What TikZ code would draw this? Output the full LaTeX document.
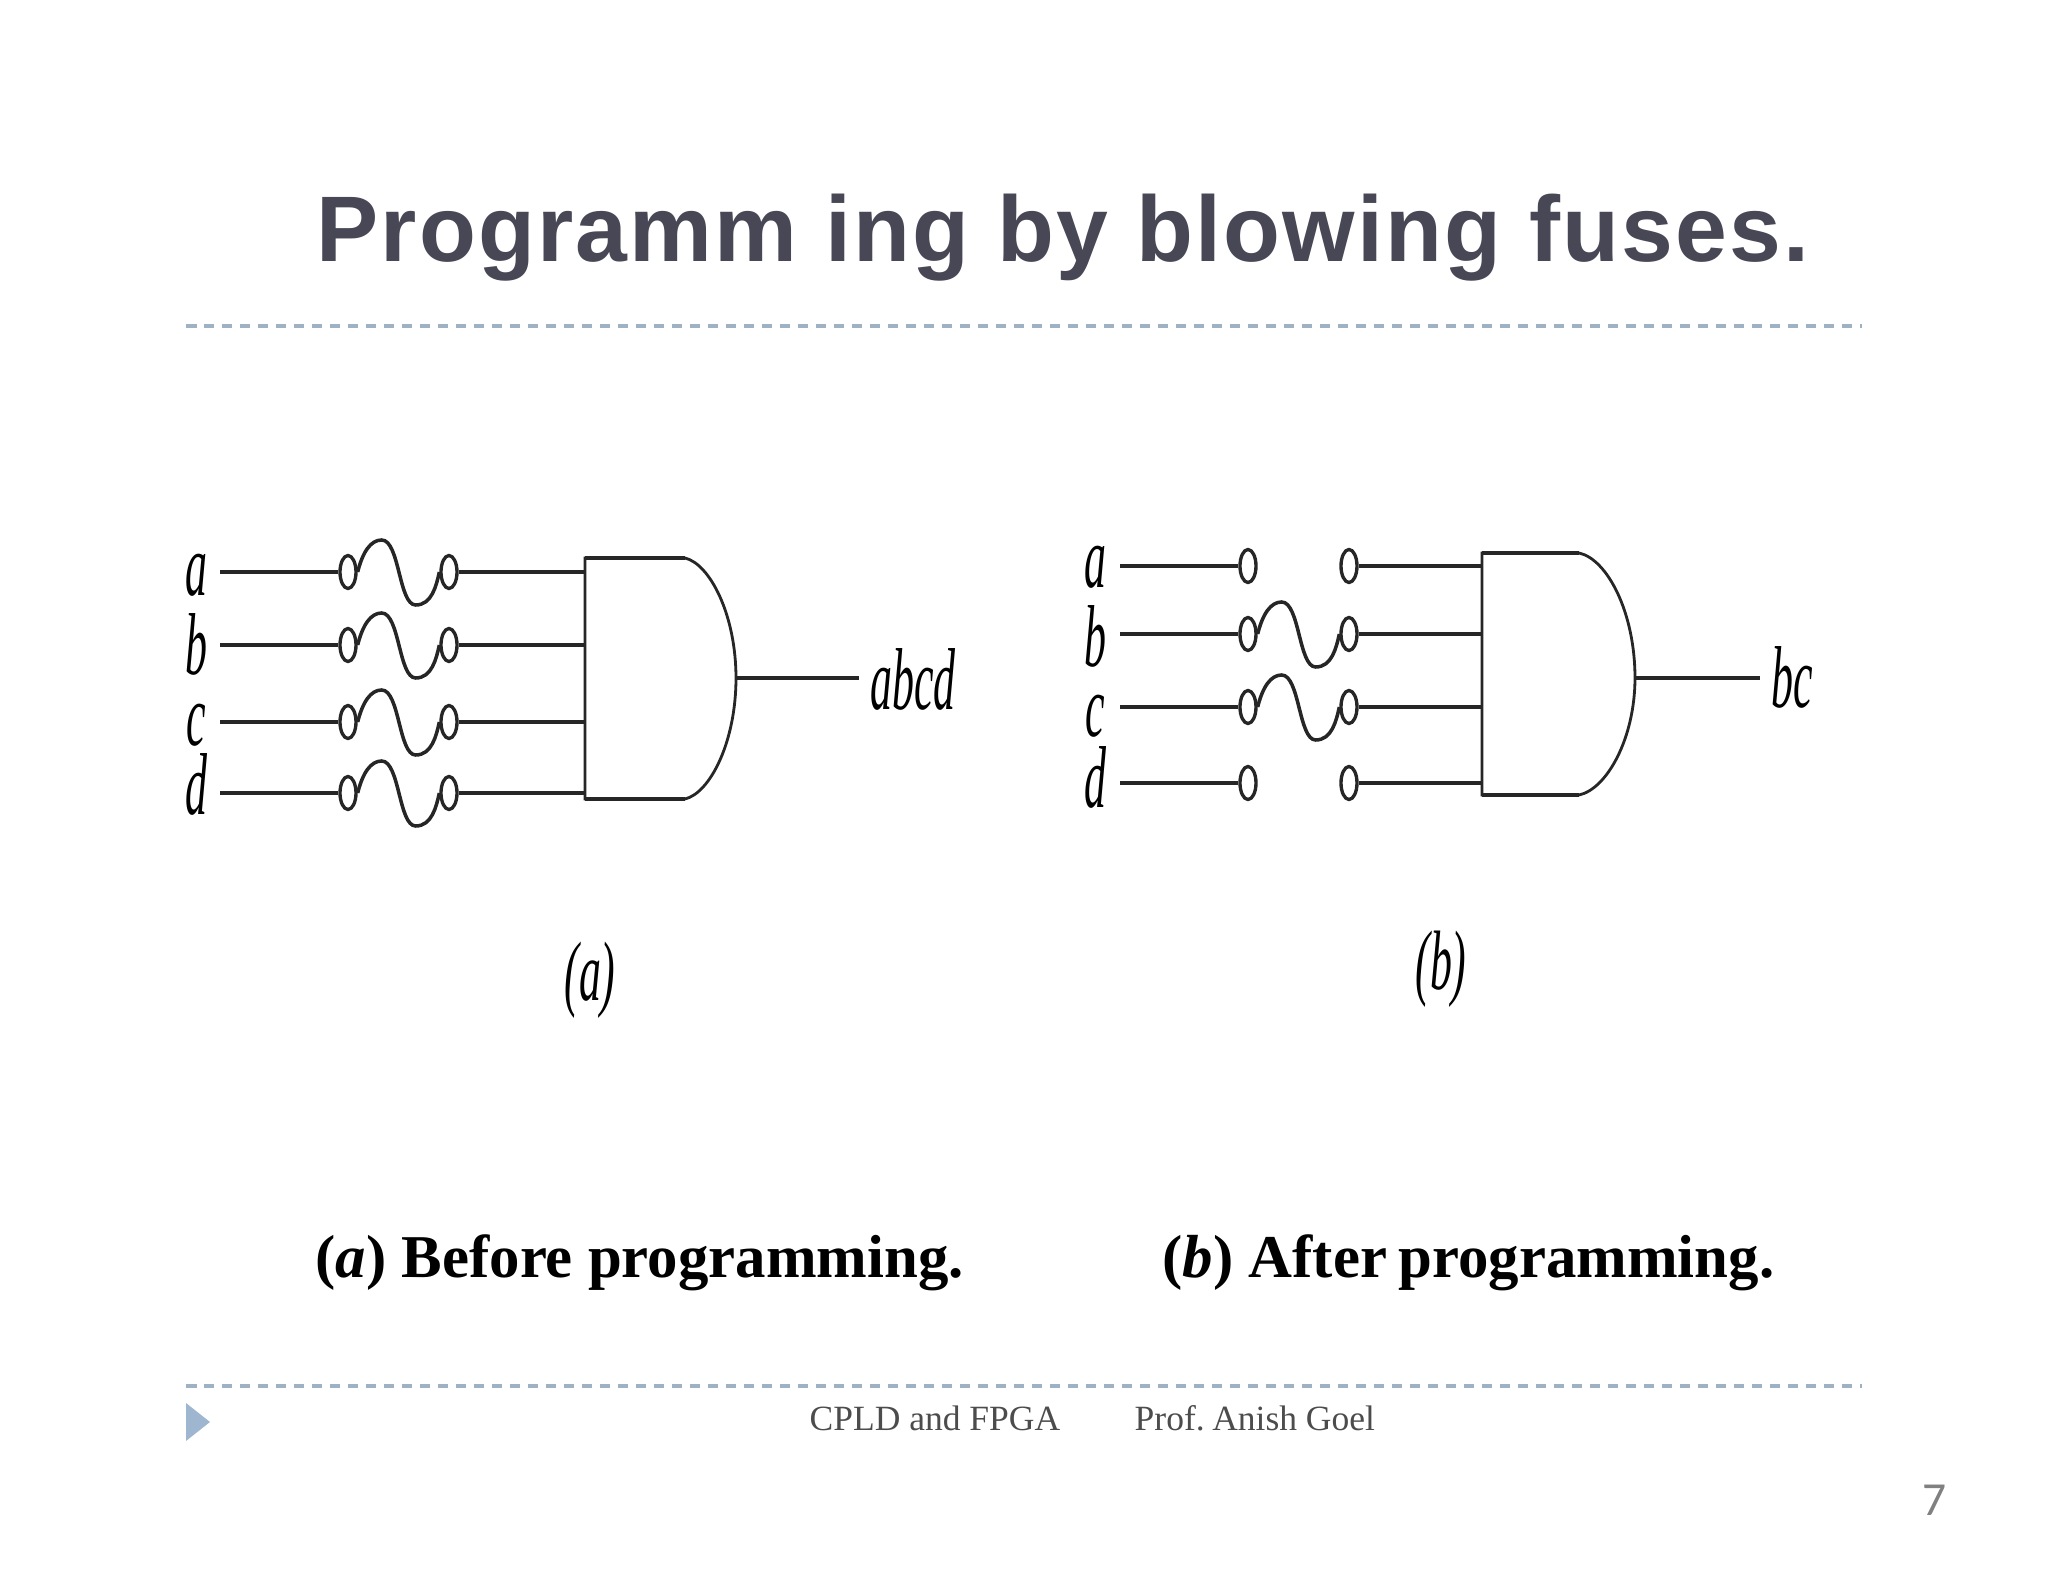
\documentclass[tikz,border=0pt]{standalone}
\usepackage{fontspec}
\setmainfont{Liberation Serif}
\newfontfamily\titlefont[LetterSpace=2.3]{Liberation Sans}
\newfontfamily\pagefont{Carlito}
\usetikzlibrary{shapes.geometric}
\definecolor{titlegrey}{HTML}{474755}
\definecolor{ruleblue}{HTML}{9FB2C3}
\definecolor{markblue}{HTML}{9FB6D0}
\tikzset{
  wire/.style={line width=1.3pt, black!85},
  fusewire/.style={line width=1pt, black!85},
  terminal/.style={draw=black!85, line width=0.95pt, fill=white, ellipse, inner sep=0pt, minimum width=0.16cm, minimum height=0.33cm},
  gatebody/.style={draw=black!85, line width=0.8pt, fill=white},
  gateedge/.style={line width=1.3pt, black!85},
  letter/.style={anchor=base, inner sep=0pt, xscale=0.5, font=\fontsize{25}{30}\selectfont\itshape},
  sublabel/.style={anchor=base, inner sep=0pt, xscale=0.52, font=\fontsize{24}{28}\selectfont\itshape},
  caption/.style={anchor=base west, inner sep=0pt, font=\fontsize{17.3}{20}\selectfont\bfseries},
  footer/.style={anchor=base west, inner sep=0pt, text=black!70, font=\fontsize{10.1}{12}\selectfont},
  dashrule/.style={ruleblue, line width=1pt, dash pattern=on 0.105cm off 0.075cm}
}
\begin{document}
\begin{tikzpicture}
\useasboundingbox (0,0) rectangle (20.48,-15.82);
% one fuse between two terminals
\def\fuse#1#2{\draw[fusewire] (#1.east) .. controls +(0.05,0.2) and +(-0.11,0) .. ++(0.24,0.32) .. controls +(0.18,0) and +(-0.17,0) .. ++(0.34,-0.65) .. controls +(0.16,0) and +(-0.03,-0.14) .. (#2.west);}

% Title and rules
\node[anchor=base west, inner sep=0pt, text=titlegrey, font=\fontsize{26.5}{30}\selectfont\titlefont\bfseries] (title) at (3.16,-2.62) {Programm ing by blowing fuses.};
\coordinate (ruletopl) at (1.86,-3.26);
\coordinate (ruletopr) at (18.62,-3.26);
\draw[dashrule] (ruletopl) -- (ruletopr);
\coordinate (rulebotl) at (1.86,-13.86);
\coordinate (rulebotr) at (18.62,-13.86);
\draw[dashrule] (rulebotl) -- (rulebotr);

% Gate (a)
\draw[gatebody] (5.85,-5.58) -- (6.85,-5.58) .. controls (7.10,-5.64) and (7.36,-6.15) .. (7.36,-6.78) .. controls (7.36,-7.42) and (7.10,-7.93) .. (6.85,-7.99) -- (5.85,-7.99) -- cycle;
\draw[gateedge] (5.85,-5.58) -- (6.85,-5.58);
\draw[gateedge] (5.85,-7.99) -- (6.85,-7.99);
\coordinate (gaa) at (5.85,-5.72);
\coordinate (gab) at (5.85,-6.45);
\coordinate (gac) at (5.85,-7.22);
\coordinate (gad) at (5.85,-7.93);
\coordinate (gaout) at (7.36,-6.78);
\coordinate (aend) at (8.59,-6.78);
\coordinate (ina) at (2.20,-5.72);
\coordinate (inb) at (2.20,-6.45);
\coordinate (inc) at (2.20,-7.22);
\coordinate (ind) at (2.20,-7.93);
\node[letter] (la) at (1.96,-5.96) {a};
\node[letter] (lb) at (1.96,-6.74) {b};
\node[letter] (lc) at (1.96,-7.46) {c};
\node[letter] (ld) at (1.96,-8.14) {d};
\node[terminal] (ta1) at (3.48,-5.72) {};
\node[terminal] (tb1) at (3.48,-6.45) {};
\node[terminal] (tc1) at (3.48,-7.22) {};
\node[terminal] (td1) at (3.48,-7.93) {};
\node[terminal] (ta2) at (4.49,-5.72) {};
\node[terminal] (tb2) at (4.49,-6.45) {};
\node[terminal] (tc2) at (4.49,-7.22) {};
\node[terminal] (td2) at (4.49,-7.93) {};
\draw[wire] (ina) -- (ta1);
\draw[wire] (inb) -- (tb1);
\draw[wire] (inc) -- (tc1);
\draw[wire] (ind) -- (td1);
\draw[wire] (ta2) -- (gaa);
\draw[wire] (tb2) -- (gab);
\draw[wire] (tc2) -- (gac);
\draw[wire] (td2) -- (gad);
\fuse{ta1}{ta2}
\fuse{tb1}{tb2}
\fuse{tc1}{tc2}
\fuse{td1}{td2}
\draw[wire] (gaout) -- (aend);
\node[letter] (labcd) at (9.13,-7.09) {abcd};
\node[sublabel] (suba) at (5.90,-10.01) {(a)};

% Gate (b)
\draw[gatebody] (14.82,-5.53) -- (15.79,-5.53) .. controls (16.07,-5.59) and (16.35,-6.12) .. (16.35,-6.78) .. controls (16.35,-7.38) and (16.07,-7.89) .. (15.79,-7.95) -- (14.82,-7.95) -- cycle;
\draw[gateedge] (14.82,-5.53) -- (15.79,-5.53);
\draw[gateedge] (14.82,-7.95) -- (15.79,-7.95);
\coordinate (gba) at (14.82,-5.66);
\coordinate (gbb) at (14.82,-6.34);
\coordinate (gbc) at (14.82,-7.07);
\coordinate (gbd) at (14.82,-7.83);
\coordinate (gbout) at (16.35,-6.78);
\coordinate (bend) at (17.60,-6.78);
\coordinate (inba) at (11.20,-5.66);
\coordinate (inbb) at (11.20,-6.34);
\coordinate (inbc) at (11.20,-7.07);
\coordinate (inbd) at (11.20,-7.83);
\node[letter] (lba) at (10.95,-5.88) {a};
\node[letter] (lbb) at (10.95,-6.66) {b};
\node[letter] (lbc) at (10.95,-7.36) {c};
\node[letter] (lbd) at (10.95,-8.07) {d};
\node[terminal] (ua1) at (12.48,-5.66) {};
\node[terminal] (ub1) at (12.48,-6.34) {};
\node[terminal] (uc1) at (12.48,-7.07) {};
\node[terminal] (ud1) at (12.48,-7.83) {};
\node[terminal] (ua2) at (13.49,-5.66) {};
\node[terminal] (ub2) at (13.49,-6.34) {};
\node[terminal] (uc2) at (13.49,-7.07) {};
\node[terminal] (ud2) at (13.49,-7.83) {};
\draw[wire] (inba) -- (ua1);
\draw[wire] (inbb) -- (ub1);
\draw[wire] (inbc) -- (uc1);
\draw[wire] (inbd) -- (ud1);
\draw[wire] (ua2) -- (gba);
\draw[wire] (ub2) -- (gbb);
\draw[wire] (uc2) -- (gbc);
\draw[wire] (ud2) -- (gbd);
\fuse{ub1}{ub2}
\fuse{uc1}{uc2}
\draw[wire] (gbout) -- (bend);
\node[letter] (lbcout) at (17.92,-7.08) {bc};
\node[sublabel] (subb) at (14.41,-9.90) {(b)};

% Captions and footer
\node[caption] (capa) at (3.15,-12.77) {(\textit{a}) Before programming.};
\node[caption] (capb) at (11.62,-12.77) {(\textit{b}) After\kern-0.06em{} programming.};
\node[footer] (ftopic) at (8.09,-14.30) {CPLD and FPGA};
\node[footer] (fname) at (11.34,-14.30) {Prof.\kern-0.12em{} Anish Goel};
\node[anchor=base, inner sep=0pt, text=black!50, font=\fontsize{13.5}{16}\selectfont\pagefont] (pagenum) at (19.35,-15.15) {7};
\fill[markblue] (1.86,-14.03) -- (2.10,-14.22) -- (1.86,-14.41) -- cycle;
\end{tikzpicture}
\end{document}
